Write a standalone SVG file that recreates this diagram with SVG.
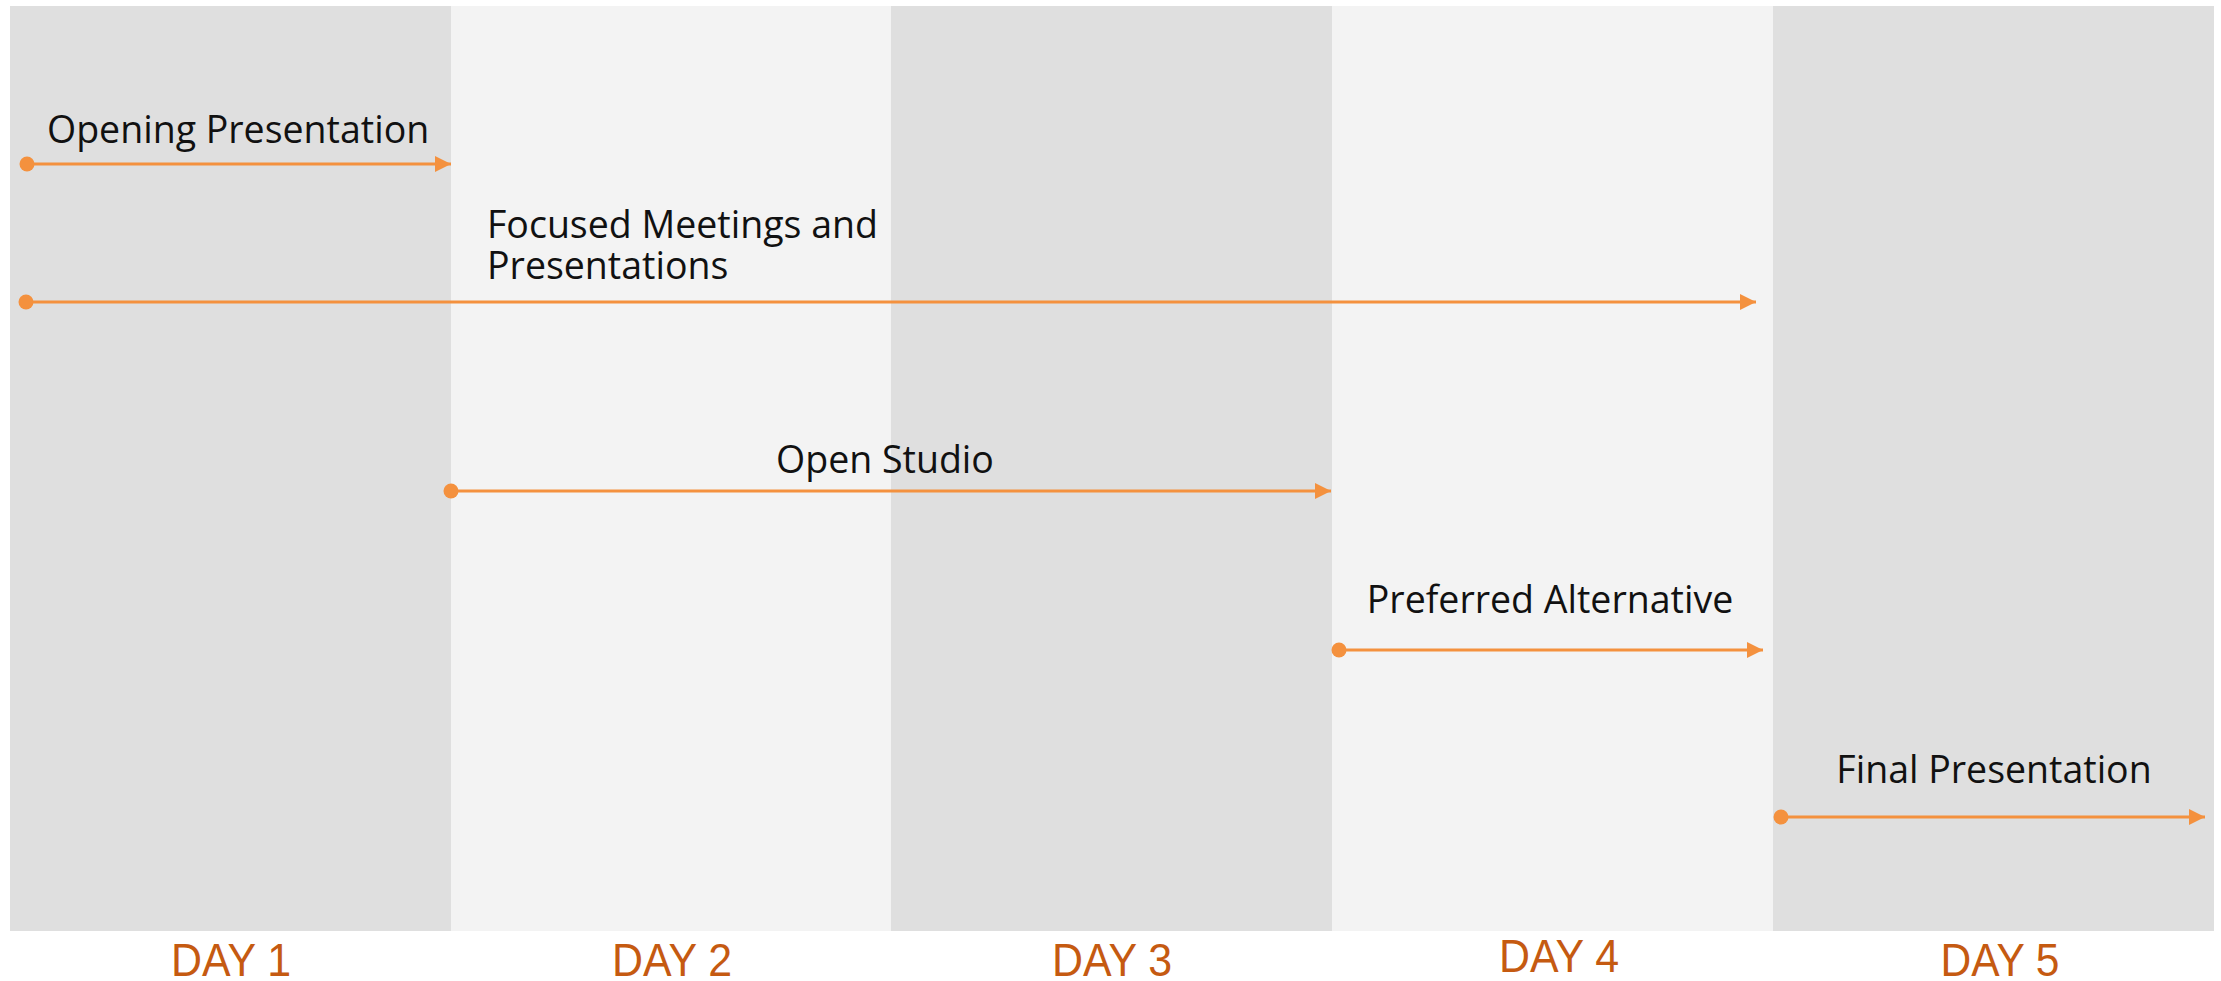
<svg xmlns="http://www.w3.org/2000/svg" width="2221" height="981" viewBox="0 0 2221 981">
<defs>
<style>
.dk{fill:#DFDFDF}
.lt{fill:#F3F3F3}
.lbl{font-family:"Open Sans","Liberation Sans",sans-serif;font-size:37.5px;fill:#111111}
.day{font-family:"Liberation Sans",Arial,sans-serif;font-size:46px;fill:#C55A11;text-anchor:middle}
.ln{stroke:#F4913E;stroke-width:3;fill:none}
.dot{fill:#F4913E}
</style>
<marker id="ah" markerUnits="userSpaceOnUse" markerWidth="17" markerHeight="16" refX="16" refY="8" orient="auto">
<path d="M0,0 L16,8 L0,16 Z" fill="#F4913E"/>
</marker>
</defs>
<rect width="2221" height="981" fill="#FFFFFF"/>
<g id="columns">
<rect class="dk" x="10" y="6" width="441" height="925"/>
<rect class="lt" x="451" y="6" width="440" height="925"/>
<rect class="dk" x="891" y="6" width="441" height="925"/>
<rect class="lt" x="1332" y="6" width="441" height="925"/>
<rect class="dk" x="1773" y="6" width="441" height="925"/>
</g>
<g id="day-labels">
<text class="day" x="231" y="976" textLength="120" lengthAdjust="spacingAndGlyphs">DAY 1</text>
<text class="day" x="672" y="976" textLength="120" lengthAdjust="spacingAndGlyphs">DAY 2</text>
<text class="day" x="1112" y="976" textLength="120" lengthAdjust="spacingAndGlyphs">DAY 3</text>
<text class="day" x="1559" y="972" textLength="120" lengthAdjust="spacingAndGlyphs">DAY 4</text>
<text class="day" x="2000" y="976" textLength="119" lengthAdjust="spacingAndGlyphs">DAY 5</text>
</g>
<g id="connectors">
<line class="ln" x1="27" y1="164" x2="451" y2="164" marker-end="url(#ah)"/>
<line class="ln" x1="26" y1="302" x2="1756" y2="302" marker-end="url(#ah)"/>
<line class="ln" x1="451" y1="491" x2="1331" y2="491" marker-end="url(#ah)"/>
<line class="ln" x1="1339" y1="650" x2="1763" y2="650" marker-end="url(#ah)"/>
<line class="ln" x1="1781" y1="817" x2="2205" y2="817" marker-end="url(#ah)"/>
<circle class="dot" cx="27" cy="164" r="7.5"/>
<circle class="dot" cx="26" cy="302" r="7.5"/>
<circle class="dot" cx="451" cy="491" r="7.5"/>
<circle class="dot" cx="1339" cy="650" r="7.5"/>
<circle class="dot" cx="1781" cy="817" r="7.5"/>
</g>
<g id="opening-presentation">
<text class="lbl" x="47" y="143">Opening Presentation</text>
</g>
<g id="focused-meetings">
<text class="lbl" x="487" y="238">Focused Meetings and</text>
<text class="lbl" x="487" y="279">Presentations</text>
</g>
<g id="open-studio">
<text class="lbl" x="885" y="473" text-anchor="middle">Open Studio</text>
</g>
<g id="preferred-alternative">
<text class="lbl" x="1550" y="613" text-anchor="middle">Preferred Alternative</text>
</g>
<g id="final-presentation">
<text class="lbl" x="1994" y="783" text-anchor="middle">Final Presentation</text>
</g>
</svg>
